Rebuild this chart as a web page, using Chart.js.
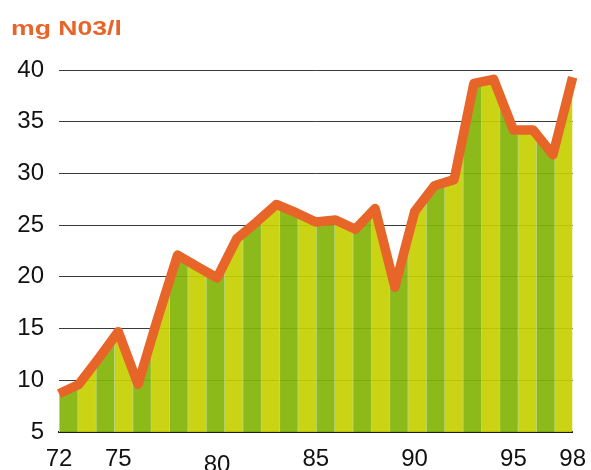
<!DOCTYPE html>
<html>
<head>
<meta charset="utf-8">
<script src="https://cdn.jsdelivr.net/npm/chart.js@4/dist/chart.umd.min.js"></script>
<style>
  body { margin: 0; background: #fff; }
  #wrap { width: 591px; height: 470px; position: relative; }
</style>
</head>
<body>
<div id="wrap"><canvas id="chart"></canvas></div>
<script>
// Years on the x axis (19xx)
var years = ['72', '73', '74', '75', '76', '77', '78', '79', '80', '81', '82', '83', '84',
             '85', '86', '87', '88', '89', '90', '91', '92', '93', '94', '95', '96', '97', '98'];

// Nitrate level, mg NO3 per litre
var nitrate = [8.7, 9.6, 12.1, 14.7, 9.6, 16.0, 22.1, 21.0, 19.9, 23.7, 25.3, 27.0, 26.2,
               25.3, 25.5, 24.6, 26.6, 19.0, 26.3, 28.8, 29.4, 38.7, 39.1, 34.2, 34.2, 31.8, 39.3];

// Year labels that are actually printed, and the one printed a bit lower
var shownYears = ['72', '75', '80', '85', '90', '95', '98'];
var lowYear = '80';

var unitLabel = 'mg N03/l';

var orange = '#e8652a';
var fontFamily = '"Liberation Sans", Arial, Helvetica, sans-serif';

// Build the vertical green / yellow stripes used to fill under the line
function makeStripes(ctx, area) {
    var pc = document.createElement('canvas');
    pc.width = 40;
    pc.height = 4;
    var p = pc.getContext('2d');
    p.fillStyle = 'rgba(130, 180, 8, 0.92)';
    p.fillRect(0, 0, 20, 4);
    p.fillStyle = 'rgba(197, 208, 0, 0.92)';
    p.fillRect(20, 0, 20, 4);
    // thin light seams between the stripes
    p.fillStyle = 'rgba(190, 215, 120, 0.92)';
    p.fillRect(19, 0, 1, 4);
    p.fillRect(39, 0, 1, 4);

    var pattern = ctx.createPattern(pc, 'repeat');
    var stripeW = area.width / 28;
    var sx = (stripeW * 2) / 40;
    pattern.setTransform(new DOMMatrix([sx, 0, 0, 1, area.left - 19 * sx + stripeW, 0]));
    return pattern;
}

// Draw the unit label in the top left corner (wide bold type)
var unitTitle = {
    id: 'unitTitle',
    afterDraw: function (chart) {
        var c = chart.ctx;
        c.save();
        c.font = 'bold 20px ' + fontFamily;
        c.fillStyle = orange;
        c.textBaseline = 'alphabetic';
        c.translate(11, 35);
        c.scale(1.33, 1);
        c.fillText(unitLabel, 0, 0);
        c.restore();
    }
};

var chart = new Chart(document.getElementById('chart').getContext('2d'), {
    type: 'line',
    data: {
        labels: years,
        datasets: [{
            data: nitrate,
            borderColor: orange,
            borderWidth: 9.5,
            borderJoinStyle: 'round',
            borderCapStyle: 'butt',
            pointRadius: 0,
            tension: 0,
            fill: 'start',
            clip: false,
            backgroundColor: function (context) {
                var area = context.chart.chartArea;
                if (!area) return 'rgba(0,0,0,0)';
                return makeStripes(context.chart.ctx, area);
            }
        }]
    },
    options: {
        responsive: true,
        maintainAspectRatio: false,
        animation: false,
        layout: {
            padding: { top: 70, right: 12, bottom: 0, left: 0 }
        },
        plugins: {
            legend: { display: false },
            tooltip: { enabled: false }
        },
        scales: {
            x: {
                grid: { display: false },
                border: { display: true, color: '#1c1c1c', width: 2 },
                afterFit: function (scale) { scale.height = 38; },
                ticks: {
                    autoSkip: false,
                    maxRotation: 0,
                    padding: 5,
                    color: '#111',
                    font: function (ctx) {
                        var low = ctx.tick && ctx.tick.label === lowYear;
                        return { family: fontFamily, size: 24, lineHeight: low ? 1.66 : 1.2 };
                    },
                    callback: function (value, index) {
                        return shownYears.indexOf(years[index]) >= 0 ? years[index] : '';
                    }
                }
            },
            y: {
                min: 5,
                max: 40,
                border: { display: false },
                grid: { color: '#3a3a3a', lineWidth: 1, drawTicks: false },
                afterFit: function (scale) { scale.width = 59; },
                ticks: {
                    stepSize: 5,
                    padding: 15,
                    color: '#111',
                    font: { family: fontFamily, size: 24 }
                }
            }
        }
    },
    plugins: [unitTitle]
});
</script>
</body>
</html>
